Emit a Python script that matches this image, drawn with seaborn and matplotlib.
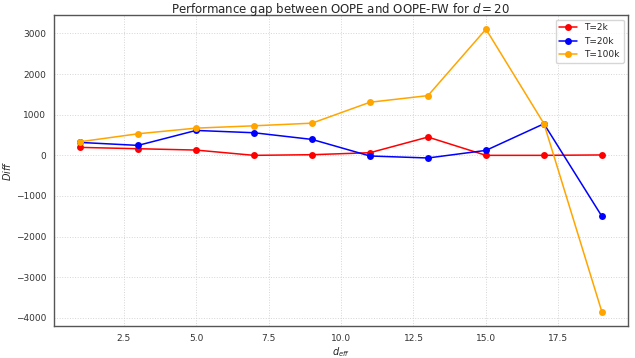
import matplotlib
matplotlib.use("Agg")
import matplotlib.pyplot as plt
import seaborn as sns
import pandas as pd

d_eff = [1, 3, 5, 7, 9, 11, 13, 15, 17, 19]
diff_2k = [196, 163, 130, 0, 16, 65, 450, 0, 0, 10]
diff_20k = [318, 245, 613, 556, 392, -16, -65, 122, 777, -1502]
diff_100k = [335, 531, 670, 727, 792, 1307, 1470, 3105, 780, -3855]
labels = ["T=2k", "T=20k", "T=100k"]

rows = []
for lab, vals in zip(labels, [diff_2k, diff_20k, diff_100k]):
    for x, y in zip(d_eff, vals):
        rows.append({"d_eff": x, "Diff": y, "T": lab})
df = pd.DataFrame(rows)

sns.set_style("whitegrid", {"grid.linestyle": ":", "grid.color": "#d5d5d5",
                            "axes.edgecolor": "#555555"})
plt.rcParams['font.family'] = ['DejaVu Sans']

fig, ax = plt.subplots(figsize=(6.35, 3.58), dpi=100)
sns.lineplot(data=df, x="d_eff", y="Diff", hue="T", marker="o", markersize=5,
             markeredgewidth=0, linewidth=1.1,
             palette=["red", "blue", "orange"], ax=ax)

ax.set_title("Performance gap between OOPE and OOPE-FW for $d = 20$", fontsize=8.5, pad=1.5)
ax.set_xlabel("$d_{eff}$", fontsize=7, labelpad=2)
ax.set_ylabel("$Diff$", fontsize=7, labelpad=2)
ax.tick_params(labelsize=6.5, length=2, colors="#333333")
ax.grid(linewidth=0.7)
ax.legend(title=None, loc="upper right", fontsize=6.5, frameon=True)
for s in ax.spines.values():
    s.set_linewidth(1.0)

fig.subplots_adjust(left=0.085, right=0.989, top=0.958, bottom=0.089)
fig.savefig("out.png", dpi=100)
